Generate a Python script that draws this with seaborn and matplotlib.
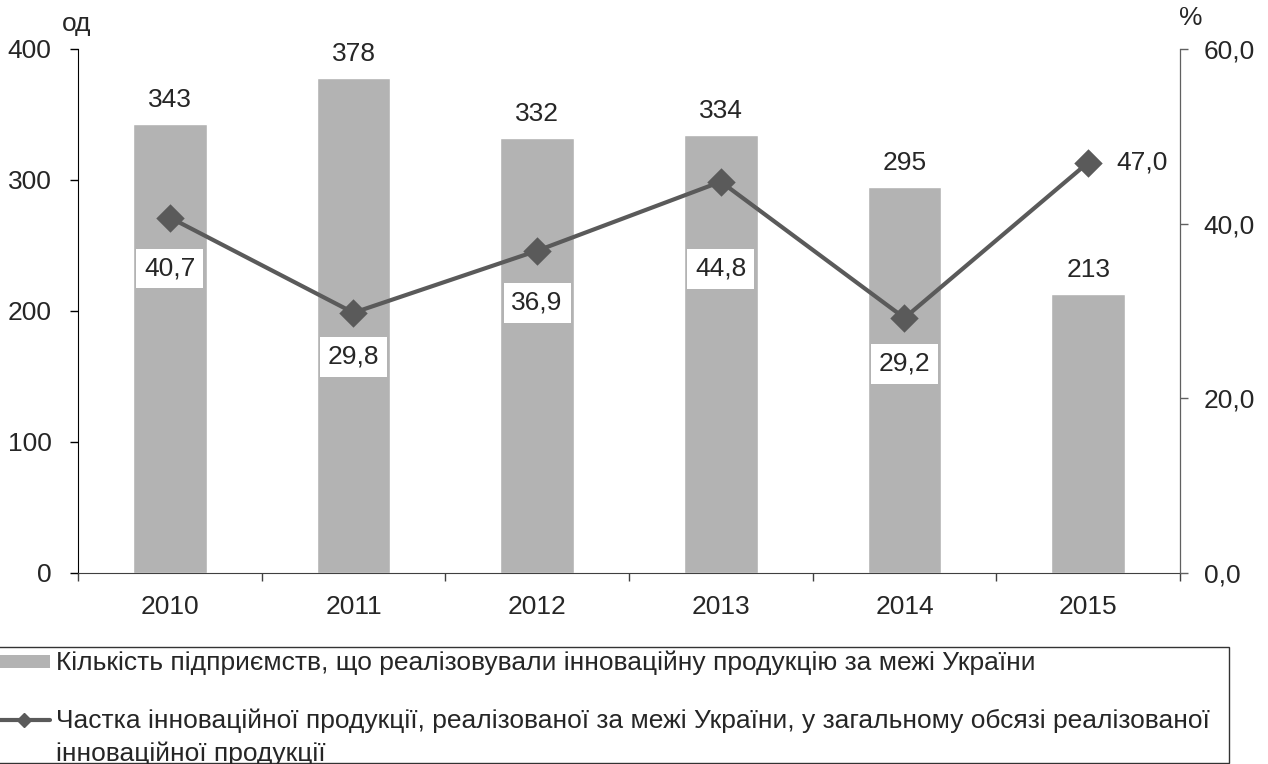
import matplotlib
matplotlib.use("Agg")
import matplotlib.pyplot as plt
from matplotlib.patches import Rectangle
from matplotlib.lines import Line2D
import seaborn as sns
import pandas as pd

sns.set_style("white")
plt.rcParams['font.family'] = ['Liberation Sans', 'DejaVu Sans']

# data
years = ["2010", "2011", "2012", "2013", "2014", "2015"]
enterprises = [343, 378, 332, 334, 295, 213]
share = [40.7, 29.8, 36.9, 44.8, 29.2, 47.0]

bar_label = "Кількість підприємств, що реалізовували інноваційну продукцію за межі України"
line_label = ["Частка інноваційної продукції, реалізованої за межі України, у загальному обсязі реалізованої",
              "інноваційної продукції"]

# label offsets for the share values (pixels)
share_offsets = [(0, -51), (0, -44), (0, -52), (0, -87), (0, -46), (54, 0)]

bar_color = "#b3b3b3"
line_color = "#5a5a5a"
fs = 19
W, H = 1268, 764

df = pd.DataFrame({"year": years, "enterprises": enterprises, "share": share})

fig = plt.figure(figsize=(12.68, 7.64), dpi=100)
ax = fig.add_axes([0.0615, 0.25, 0.8691, 0.6859])

sns.barplot(data=df, x="year", y="enterprises", color=bar_color, width=0.4,
            saturation=1, ax=ax)
ax.set_ylim(0, 400)
ax.set_xlim(-0.5, 5.5)
ax.set_yticks([0, 100, 200, 300, 400])
ax.set_xlabel("")
ax.set_ylabel("")

for i, v in enumerate(enterprises):
    ax.annotate(str(v), (i, v), xytext=(0, 24), textcoords="offset pixels",
                ha="center", va="center", fontsize=fs)

ax2 = ax.twinx()
sns.pointplot(data=df, x="year", y="share", color=line_color, marker="D",
              markersize=12.5, linewidth=3, ax=ax2)
ax2.set_ylim(0, 60)
ax2.set_xlim(-0.5, 5.5)
ax2.set_yticks([0, 20, 40, 60])
ax2.set_yticklabels([f"{t:.1f}".replace(".", ",") for t in [0, 20, 40, 60]])
ax2.set_ylabel("")

for i, v in enumerate(share):
    dx, dy = share_offsets[i]
    ax2.annotate(f"{v:.1f}".replace(".", ","), (i, v), xytext=(dx, dy),
                 textcoords="offset pixels", ha="center", va="center", fontsize=fs,
                 bbox=dict(boxstyle="square,pad=0.3", fc="white", ec="none"))

for a in (ax, ax2):
    a.spines["top"].set_visible(False)
ax.spines["left"].set_color("black")
ax.spines["bottom"].set_color("#404040")
ax2.spines["right"].set_color("#606060")
ax2.spines["left"].set_visible(False)
ax2.spines["bottom"].set_visible(False)

ax.tick_params(axis="y", direction="out", length=6, width=1, color="black",
               labelsize=fs, pad=13, left=True)
ax2.tick_params(axis="y", direction="out", length=6, width=1, color="#606060",
                labelsize=fs, pad=11, right=True)
# category separators on x axis
ax.set_xticks([i - 0.5 for i in range(7)], minor=True)
ax.tick_params(axis="x", which="minor", direction="out", length=6, width=1,
               color="#404040", bottom=True)
ax.tick_params(axis="x", which="major", length=0, labelsize=fs, pad=16)

fig.text(77 / W, 1 - 24 / H, "од", fontsize=fs, ha="center", va="center")
fig.text(1191 / W, 1 - 18 / H, "%", fontsize=fs, ha="center", va="center")

# legend box drawn by hand (the second entry's handle sits on its first line)
def fx(px):
    return px / W

def fy(py):
    return 1 - py / H

fig.patches.append(Rectangle((fx(-2), fy(763)), fx(1229 + 2), 116 / H,
                             transform=fig.transFigure, fill=False,
                             ec="#333333", lw=1))
fig.patches.append(Rectangle((fx(0), fy(668)), fx(50), 13 / H,
                             transform=fig.transFigure, fc=bar_color, ec="none"))
fig.text(fx(56), fy(670), bar_label, fontsize=fs, va="baseline", ha="left")
fig.lines.append(Line2D([fx(0), fx(50)], [fy(720), fy(720)], transform=fig.transFigure,
                        color=line_color, lw=3))
fig.lines.append(Line2D([fx(24)], [fy(720)], transform=fig.transFigure,
                        color=line_color, marker="D", markersize=7, lw=0))
fig.text(fx(56), fy(728), line_label[0], fontsize=fs, va="baseline", ha="left")
fig.text(fx(56), fy(761), line_label[1], fontsize=fs, va="baseline", ha="left")

fig.savefig("out.png", dpi=100)
